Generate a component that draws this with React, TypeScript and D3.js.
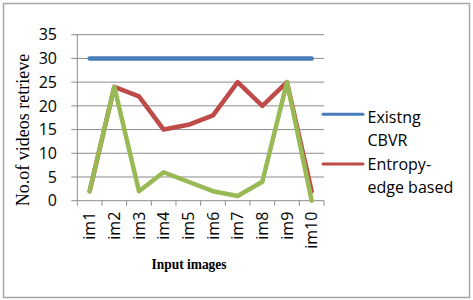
import React from "react";
import * as d3 from "d3";

const categories = ["im1", "im2", "im3", "im4", "im5", "im6", "im7", "im8", "im9", "im10"];
const existingCbvr = [30, 30, 30, 30, 30, 30, 30, 30, 30, 30];
const entropyEdge = [2, 24, 22, 15, 16, 18, 25, 20, 25, 2];
const thirdSeries = [2, 24, 2, 6, 4, 2, 1, 4, 25, 0];
const yTicks = [0, 5, 10, 15, 20, 25, 30, 35];

const W = 473;
const H = 300;
const plot = { left: 77.3, right: 324, top: 34.7, bottom: 200.7 };

const sans = "'Open Sans', 'DejaVu Sans', sans-serif";
const serif = "'Liberation Serif', 'Times New Roman', serif";

export default function App() {
  const x = d3.scaleBand<string>().domain(categories).range([plot.left, plot.right]);
  const y = d3.scaleLinear().domain([0, 35]).range([plot.bottom, plot.top]);
  const cx = (c: string) => (x(c) ?? 0) + x.bandwidth() / 2;

  const line = d3
    .line<number>()
    .x((_, i) => cx(categories[i]))
    .y((v) => y(v));

  const series = [
    { name: "existing", values: existingCbvr, color: "#4A7EBB" },
    { name: "entropy", values: entropyEdge, color: "#BE4B48" },
    { name: "third", values: thirdSeries, color: "#98B954" },
  ];

  const bandEdges = [...categories.map((c) => x(c) ?? 0), plot.right];

  return (
    <svg
      width={W}
      height={H}
      style={{ position: "absolute", left: 0, top: 0, background: "#fff" }}
    >
      <rect x={3.5} y={3.5} width={466} height={294} fill="#fff" stroke="#A6A6A6" strokeWidth={1.5} />

      {/* horizontal gridlines with left tick stubs */}
      {yTicks.map((t) => (
        <line
          key={t}
          x1={plot.left - 6}
          x2={plot.right}
          y1={y(t)}
          y2={y(t)}
          stroke="#8C8C8C"
          strokeWidth={1}
        />
      ))}
      {/* value axis */}
      <line x1={plot.left} x2={plot.left} y1={plot.top} y2={plot.bottom} stroke="#8C8C8C" strokeWidth={1} />
      {/* category tick marks */}
      {bandEdges.map((e, i) => (
        <line key={i} x1={e} x2={e} y1={plot.bottom} y2={plot.bottom + 5} stroke="#8C8C8C" strokeWidth={1} />
      ))}

      {yTicks.map((t) => (
        <text
          key={t}
          x={57}
          y={y(t)}
          dy="0.36em"
          textAnchor="end"
          fontFamily={sans}
          fontSize={16}
          fill="#000"
        >
          {t}
        </text>
      ))}

      {categories.map((c) => (
        <text
          key={c}
          transform={`translate(${cx(c)},${plot.bottom + 11}) rotate(-90)`}
          dy="0.36em"
          textAnchor="end"
          fontFamily={sans}
          fontSize={16}
          fill="#000"
        >
          {c}
        </text>
      ))}

      {series.map((s) => (
        <path
          key={s.name}
          d={line(s.values) ?? ""}
          fill="none"
          stroke={s.color}
          strokeWidth={4.5}
          strokeLinejoin="round"
          strokeLinecap="round"
        />
      ))}

      <text
        transform={`translate(29,${(47 + 213) / 2}) rotate(-90)`}
        textAnchor="middle"
        fontFamily={serif}
        fontSize={18}
        fill="#000"
      >
        No.of videos retrieve
      </text>

      <text
        x={189}
        y={269}
        textAnchor="middle"
        fontFamily={serif}
        fontSize={14}
        fontWeight="bold"
        fill="#000"
        textLength={75}
        lengthAdjust="spacingAndGlyphs"
      >
        Input images
      </text>

      {/* legend */}
      <line x1={323} x2={363} y1={114.3} y2={114.3} stroke="#4A7EBB" strokeWidth={3} strokeLinecap="round" />
      <text x={367.5} y={122.5} fontFamily={sans} fontSize={16} fill="#000">Existng</text>
      <text x={367.5} y={145.5} fontFamily={sans} fontSize={16} fill="#000">CBVR</text>
      <line x1={323} x2={363} y1={164} y2={164} stroke="#BE4B48" strokeWidth={3} strokeLinecap="round" />
      <text x={367.5} y={170} fontFamily={sans} fontSize={16} fill="#000">Entropy-</text>
      <text x={367.5} y={193.3} fontFamily={sans} fontSize={16} fill="#000">edge based</text>
    </svg>
  );
}
